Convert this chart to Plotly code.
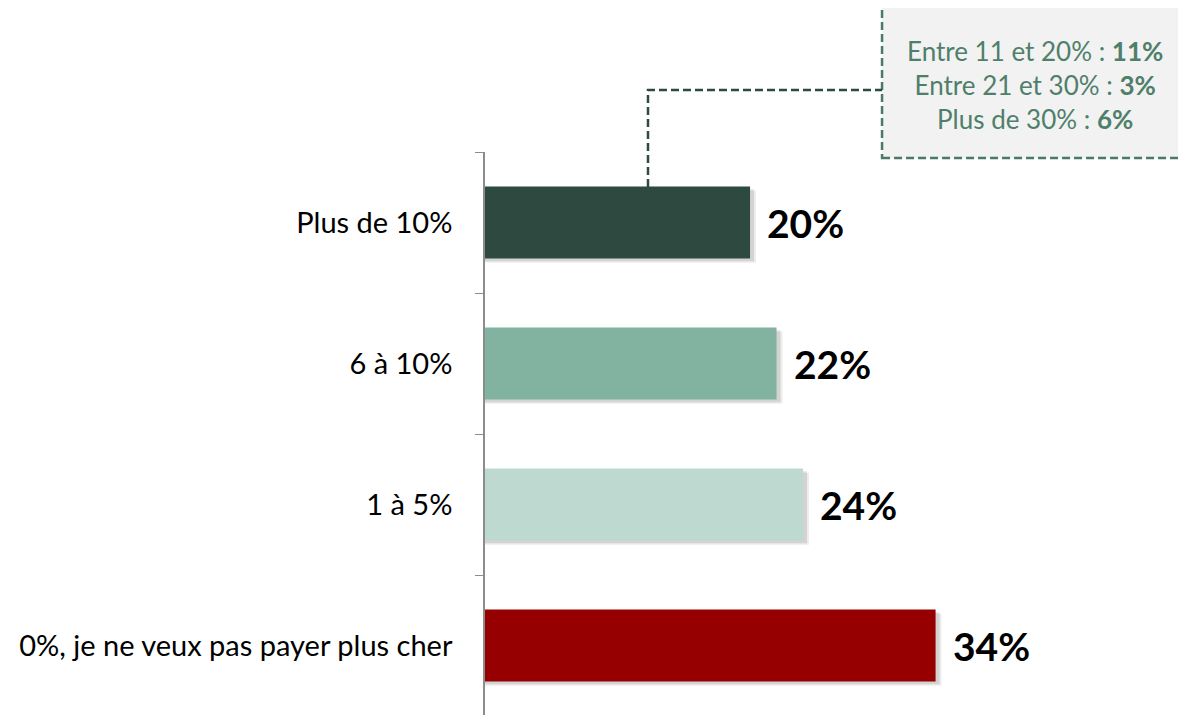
import plotly.graph_objects as go

# data
categories = ["Plus de 10%", "6 à 10%", "1 à 5%", "0%, je ne veux pas payer plus cher"]
values = [20, 22, 24, 34]
colors = ["#2e4a40", "#82b3a0", "#bdd9d0", "#960000"]
detail_labels = ["Entre 11 et 20%", "Entre 21 et 30%", "Plus de 30%"]
detail_values = [11, 3, 6]

FONT = "Lato"
GREEN_TXT = "#4f7f6a"

fig = go.Figure()

# soft shadow under the bars (a couple of faint layers)
for dx, off, alpha in [(0.45, -0.225, 0.07), (0.3, -0.235, 0.11)]:
    fig.add_trace(go.Bar(
        y=categories, x=[v + dx for v in values], orientation="h",
        width=0.51, offset=off,
        marker=dict(color=f"rgba(0,0,0,{alpha})", line=dict(width=0)),
        hoverinfo="skip", showlegend=False,
    ))

fig.add_trace(go.Bar(
    y=categories, x=values, orientation="h",
    width=0.51, offset=-0.255,
    marker=dict(color=colors, line=dict(width=0)),
    showlegend=False,
))

# value labels
for c, v in zip(categories, values):
    fig.add_annotation(x=v, y=c, text=f"<b>{v}%</b>", showarrow=False,
                       xanchor="left", xshift=15, yshift=0,
                       font=dict(family=FONT, size=39, color="#000000"))

# callout box with details
txt = "<br>".join(f"{l} : <b>{v}%</b>" for l, v in zip(detail_labels, detail_values))
fig.add_shape(type="rect", xref="paper", yref="paper",
              x0=0.560, x1=1.0, y0=0.9894, y1=1.2695,
              fillcolor="#f2f2f2", line=dict(color="#4a7a64", width=2.5, dash="8px,4px"),
              layer="above")
fig.add_annotation(xref="paper", yref="paper", x=0.7757, y=1.118, text=txt,
                   showarrow=False, align="center", xanchor="center", yanchor="middle",
                   font=dict(family=FONT, size=26, color=GREEN_TXT))
fig.add_shape(type="path", xref="paper", yref="paper",
              path="M 0.2299 0.938 L 0.2299 1.110 L 0.560 1.110",
              line=dict(color="#2e4a40", width=2.5, dash="8px,4px"))

fig.update_layout(
    width=1186, height=715,
    margin=dict(l=477, r=0, t=144, b=7),
    paper_bgcolor="white", plot_bgcolor="white",
    barmode="overlay",
    font=dict(family=FONT, size=20, color="#000000"),
)
fig.update_xaxes(range=[0, 53.5], visible=False)
fig.update_yaxes(categoryorder="array", categoryarray=categories, autorange="reversed",
                 showline=True, linecolor="#8c8c8c", linewidth=1.5,
                 ticks="outside", tickson="boundaries", ticklen=8, tickcolor="#8c8c8c",
                 ticklabelstandoff=25, showgrid=False,
                 tickfont=dict(family=FONT, size=29, color="#000000"))

fig.write_html("out.html")
